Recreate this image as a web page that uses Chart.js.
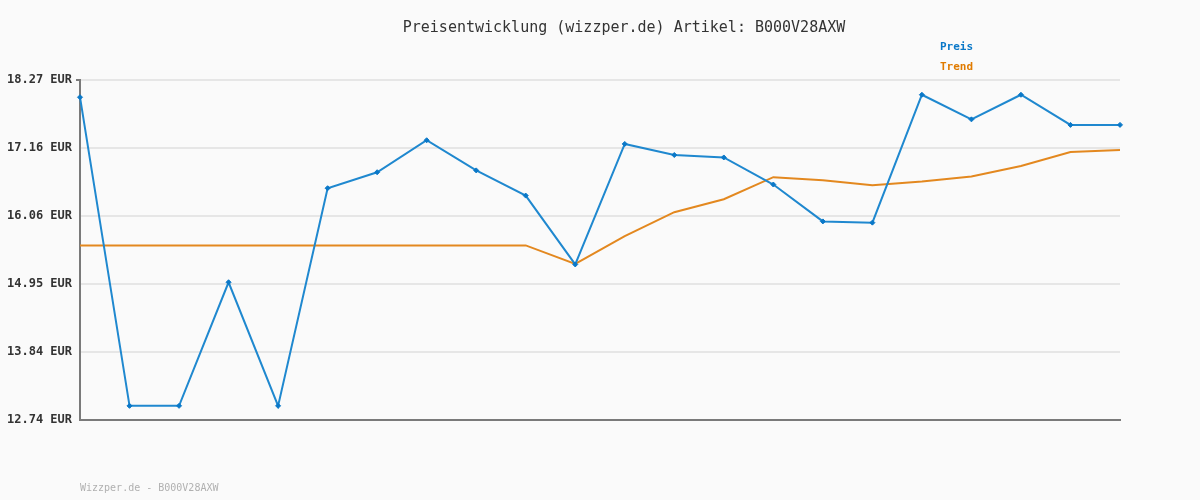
<!DOCTYPE html>
<html>
<head>
<meta charset="utf-8">
<script src="https://cdn.jsdelivr.net/npm/chart.js@4/dist/chart.umd.min.js"></script>
<style>
  html, body { margin: 0; padding: 0; background: #fafafa; }
  #wrap { width: 1200px; height: 500px; }
</style>
</head>
<body>
<div id="wrap"><canvas id="chart" width="1200" height="500"></canvas></div>
<script>
// Data
const labels = ['1','2','3','4','5','6','7','8','9','10','11','12','13','14','15','16','17','18','19','20','21','22'];
const preis = [17.99, 12.97, 12.97, 14.98, 12.97, 16.51, 16.77, 17.29, 16.80, 16.39, 15.27,
               17.23, 17.05, 17.01, 16.57, 15.97, 15.95, 18.03, 17.63, 18.03, 17.54, 17.54];
const trend = [15.58, 15.58, 15.58, 15.58, 15.58, 15.58, 15.58, 15.58, 15.58, 15.58, 15.28,
               15.73, 16.12, 16.33, 16.69, 16.64, 16.56, 16.62, 16.70, 16.87, 17.10, 17.13];
const yTicks = [12.74, 13.84, 14.95, 16.06, 17.16, 18.27];

const titleText = 'Preisentwicklung (wizzper.de) Artikel: B000V28AXW';
const footerText = 'Wizzper.de - B000V28AXW';
const mono = '"DejaVu Sans Mono", "Liberation Mono", monospace';

/* ====== extra text: title, legend, footer ====== */
const decorations = {
  id: 'decorations',
  beforeDraw(chart) {
    const c = chart.ctx;
    c.save();
    c.fillStyle = '#fafafa';
    c.fillRect(0, 0, chart.width, chart.height);
    c.restore();
  },
  afterDraw(chart) {
    const c = chart.ctx;
    c.save();
    c.textBaseline = 'middle';
    c.textAlign = 'center';
    c.font = '15px ' + mono;
    c.fillStyle = '#333333';
    c.fillText(titleText, 624, 28);

    c.textAlign = 'left';
    c.font = 'bold 11px ' + mono;
    c.fillStyle = '#0a78c8';
    c.fillText('Preis', 940, 47);
    c.fillStyle = '#e07b00';
    c.fillText('Trend', 940, 67);

    c.font = '10px ' + mono;
    c.fillStyle = '#b0b0b0';
    c.fillText(footerText, 80, 488);

    // small tick mark left of the top of the y axis
    c.strokeStyle = '#7a7a7a';
    c.lineWidth = 2;
    c.beginPath();
    c.moveTo(76, 80);
    c.lineTo(81, 80);
    c.stroke();
    c.restore();
  }
};

new Chart(document.getElementById('chart'), {
  type: 'line',
  data: {
    labels: labels,
    datasets: [
      {
        label: 'Trend',
        data: trend,
        borderColor: '#e3881f',
        borderWidth: 2,
        pointRadius: 0,
        tension: 0,
        order: 2
      },
      {
        label: 'Preis',
        data: preis,
        borderColor: '#1f88cf',
        backgroundColor: '#0a78c8',
        borderWidth: 2,
        pointStyle: 'rectRot',
        pointRadius: 2.5,
        pointBorderWidth: 1,
        pointBorderColor: '#0a78c8',
        tension: 0,
        order: 1
      }
    ]
  },
  options: {
    responsive: false,
    animation: false,
    layout: { padding: { top: 80, right: 80, bottom: 80, left: 0 } },
    plugins: {
      legend: { display: false },
      title: { display: false },
      tooltip: { enabled: false }
    },
    scales: {
      x: {
        offset: false,
        ticks: { display: false },
        grid: { display: false, drawTicks: false },
        border: { display: true, color: '#7a7a7a', width: 2 },
        afterFit(scale) { scale.height = 0; }
      },
      y: {
        min: yTicks[0],
        max: yTicks[yTicks.length - 1],
        afterBuildTicks(scale) {
          scale.ticks = yTicks.map(v => ({ value: v }));
        },
        afterFit(scale) { scale.width = 80; },
        ticks: {
          padding: 8,
          color: '#333333',
          font: { family: mono, size: 12, weight: 'bold' },
          callback: v => Number(v).toFixed(2) + ' EUR'
        },
        grid: { color: '#e6e6e6', lineWidth: 2, drawTicks: false },
        border: { display: true, color: '#7a7a7a', width: 2 }
      }
    }
  },
  plugins: [decorations]
});
</script>
</body>
</html>
